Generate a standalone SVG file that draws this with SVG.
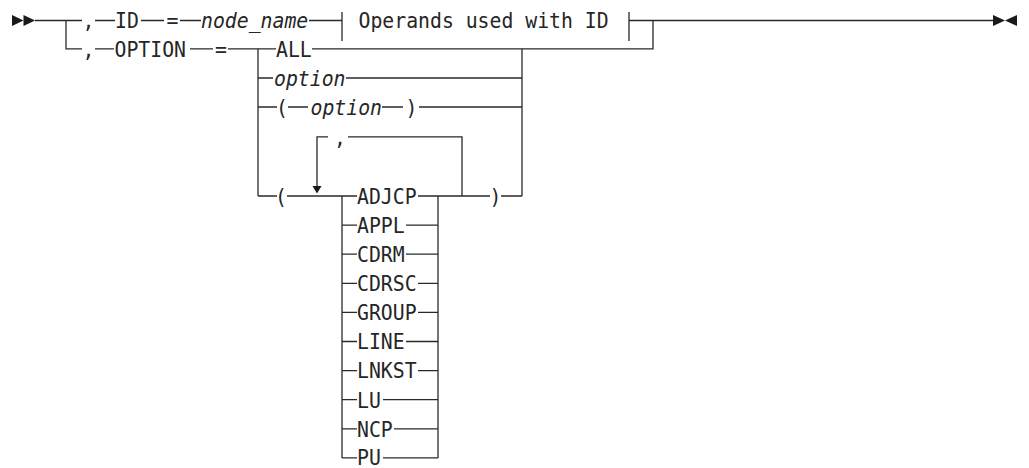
<svg xmlns="http://www.w3.org/2000/svg" width="1029" height="468" viewBox="0 0 1029 468">
<style>
text{font-family:"DejaVu Sans Mono","Liberation Mono",monospace;font-size:19.8px;fill:#262626}
.i{font-style:italic}
.m{text-anchor:middle}
#connectors path{fill:none;stroke:#2a2a2a;stroke-width:1.3}
.ah{fill:#1a1a1a}
</style>
<rect width="1029" height="468" fill="#fff"/>
<g id="connectors">
<path d="M35,20.5 H82 M95,20.5 H115 M141,20.5 H164 M180,20.5 H201 M309,20.5 H342 M629,20.5 H993"/>
<path d="M66,20.5 V48.8 H82 M95,48.8 H114 M190,48.8 H213 M228,48.8 H276 M312,48.8 H653 V20.5"/>
<path d="M342,12 V41 M629,12 V41"/>
<path d="M258,48.8 V196 M522,48.8 V196"/>
<path d="M258,78 H273 M346,78 H522"/>
<path d="M258,107 H277 M288,107 H308 M382,107 H403 M419,107 H522"/>
<path d="M258,196 H277 M287,196 H357 M418,196 H490 M501,196 H522"/>
<path d="M317,187 V136.8 H328 M348,136.8 H462 V196"/>
<path d="M342,196 V457.9 M438,196 V457.9"/>
<path d="M342,225.1 H357 M406,225.1 H438"/>
<path d="M342,254.2 H357 M406,254.2 H438"/>
<path d="M342,283.3 H357 M418,283.3 H438"/>
<path d="M342,312.4 H357 M418,312.4 H438"/>
<path d="M342,341.5 H357 M406,341.5 H438"/>
<path d="M342,370.6 H357 M418,370.6 H438"/>
<path d="M342,399.7 H357 M383,399.7 H438"/>
<path d="M342,428.8 H357 M394,428.8 H438"/>
<path d="M342,457.9 H357 M383,457.9 H438"/>
<polygon class="ah" points="12,15 23.5,20.5 12,26"/>
<polygon class="ah" points="23.5,15 35,20.5 23.5,26"/>
<polygon class="ah" points="993,15 1005,20.5 993,26"/>
<polygon class="ah" points="1017,15 1005,20.5 1017,26"/>
<polygon class="ah" points="312.5,186 321.5,186 317,193.5"/>
</g>
<g id="comma-id" transform="translate(0,28.3) scale(1,1.08)"><text class="m" x="88.5" y="0">,</text></g>
<g id="kw-id" transform="translate(0,28.3) scale(1,1.08)"><text x="115" y="0">ID</text></g>
<g id="eq-id" transform="translate(0,28.3) scale(1,1.08)"><text class="m" x="172.5" y="0">=</text></g>
<g id="node-name" transform="translate(0,28.3) scale(1,1.08)"><text class="i" x="201" y="0">node_name</text></g>
<g id="fragment-ref" transform="translate(0,28.3) scale(1,1.08)"><text x="358.5" y="0">Operands used with ID</text></g>
<g id="comma-option" transform="translate(0,56.6) scale(1,1.08)"><text class="m" x="88.5" y="0">,</text></g>
<g id="kw-option" transform="translate(0,56.6) scale(1,1.08)"><text x="114.5" y="0">OPTION</text></g>
<g id="eq-option" transform="translate(0,56.6) scale(1,1.08)"><text class="m" x="221" y="0">=</text></g>
<g id="all" transform="translate(0,56.6) scale(1,1.08)"><text x="276" y="0">ALL</text></g>
<g id="option-plain" transform="translate(0,85.8) scale(1,1.08)"><text class="i" x="274" y="0">option</text></g>
<g id="option-paren" transform="translate(0,114.8) scale(1,1.08)"><text class="m" x="282" y="0">(</text><text class="i" x="310.5" y="0">option</text><text class="m" x="411.5" y="0">)</text></g>
<g id="repeat-sep" transform="translate(0,144.6) scale(1,1.08)"><text class="m" x="340" y="0">,</text></g>
<g id="list-open" transform="translate(0,203.8) scale(1,1.08)"><text class="m" x="281" y="0">(</text></g>
<g id="list-close" transform="translate(0,203.8) scale(1,1.08)"><text class="m" x="495.5" y="0">)</text></g>
<g id="adjcp" transform="translate(0,203.8) scale(1,1.08)"><text x="357" y="0">ADJCP</text></g>
<g id="appl" transform="translate(0,232.9) scale(1,1.08)"><text x="357" y="0">APPL</text></g>
<g id="cdrm" transform="translate(0,262) scale(1,1.08)"><text x="357" y="0">CDRM</text></g>
<g id="cdrsc" transform="translate(0,291.1) scale(1,1.08)"><text x="357" y="0">CDRSC</text></g>
<g id="group" transform="translate(0,320.2) scale(1,1.08)"><text x="357" y="0">GROUP</text></g>
<g id="line" transform="translate(0,349.3) scale(1,1.08)"><text x="357" y="0">LINE</text></g>
<g id="lnkst" transform="translate(0,378.4) scale(1,1.08)"><text x="357" y="0">LNKST</text></g>
<g id="lu" transform="translate(0,407.5) scale(1,1.08)"><text x="357" y="0">LU</text></g>
<g id="ncp" transform="translate(0,436.6) scale(1,1.08)"><text x="357" y="0">NCP</text></g>
<g id="pu" transform="translate(0,465.2) scale(1,1.08)"><text x="357" y="0">PU</text></g>
</svg>
